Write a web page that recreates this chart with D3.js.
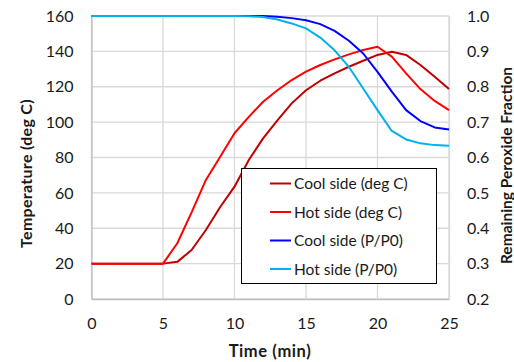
<!DOCTYPE html>
<html>
<head>
<meta charset="utf-8">
<script src="https://cdn.jsdelivr.net/npm/d3@7/dist/d3.min.js"></script>
<style>
  html, body { margin: 0; padding: 0; background: #fff; }
  svg { display: block; font-family: Lato, "Open Sans", sans-serif; }
</style>
</head>
<body>
<svg id="chart" width="514" height="362"></svg>
<script>
// Time in minutes (one reading per minute)
const time = d3.range(0, 26);

// Temperatures (deg C)
const coolTemp = [20, 20, 20, 20, 20, 20, 21, 27.7, 39, 52, 63.5, 78.6, 90.8, 101, 110.6, 118, 123.4, 127.6, 131.3, 134.7, 138, 139.8, 138, 132.3, 125.7, 118.7];
const hotTemp  = [20, 20, 20, 20, 20, 20, 31.5, 49, 67.3, 80.4, 93.7, 103, 111.5, 118, 123.8, 128.5, 132.3, 135.5, 138.3, 140.8, 142.6, 137, 127.6, 118.7, 112, 106.8];

// Remaining peroxide fraction (P/P0)
const coolFrac = [1, 1, 1, 1, 1, 1, 1, 1, 1, 1, 1, 1, 1, 0.998, 0.994, 0.988, 0.977, 0.958, 0.930, 0.894, 0.842, 0.786, 0.734, 0.703, 0.685, 0.679];
const hotFrac  = [1, 1, 1, 1, 1, 1, 1, 1, 1, 1, 1, 0.999, 0.997, 0.990, 0.979, 0.965, 0.939, 0.903, 0.856, 0.795, 0.734, 0.675, 0.651, 0.640, 0.635, 0.633];

const xTicks = [0, 5, 10, 15, 20, 25];
const leftTicks = [0, 20, 40, 60, 80, 100, 120, 140, 160];
const rightTicks = [0.2, 0.3, 0.4, 0.5, 0.6, 0.7, 0.8, 0.9, 1.0];

const series = [
  { name: "Cool side (deg C)", values: coolTemp, axis: "left",  color: "#C00000" },
  { name: "Hot side (deg C)",  values: hotTemp,  axis: "left",  color: "#FF0000" },
  { name: "Cool side (P/P0)",  values: coolFrac, axis: "right", color: "#0000FF" },
  { name: "Hot side (P/P0)",   values: hotFrac,  axis: "right", color: "#00B0F0" }
];

const svg = d3.select("#chart");
const plot = { left: 91.5, right: 449, top: 16, bottom: 299 };

const x = d3.scaleLinear().domain([0, 25]).range([plot.left, plot.right]);
const yL = d3.scaleLinear().domain([0, 160]).range([plot.bottom, plot.top]);
const yR = d3.scaleLinear().domain([0.2, 1.0]).range([plot.bottom, plot.top]);

const gridColor = "#D9D9D9";
const textColor = "#1a1a1a";

// Gridlines
const grid = svg.append("g");
grid.selectAll("line.h").data(leftTicks).join("line")
  .attr("x1", plot.left).attr("x2", plot.right)
  .attr("y1", d => yL(d)).attr("y2", d => yL(d))
  .attr("stroke", gridColor).attr("stroke-width", 1.3);
grid.selectAll("line.v").data(xTicks).join("line")
  .attr("x1", d => x(d)).attr("x2", d => x(d))
  .attr("y1", plot.top).attr("y2", plot.bottom)
  .attr("stroke", gridColor).attr("stroke-width", 1.3);

// Axes
const axisBottom = d3.axisBottom(x).tickValues(xTicks).tickSize(0).tickPadding(19).tickFormat(d3.format("d"));
const axisLeft = d3.axisLeft(yL).tickValues(leftTicks).tickSize(0).tickPadding(18).tickFormat(d3.format("d"));
const axisRight = d3.axisRight(yR).tickValues(rightTicks).tickSize(0).tickPadding(18).tickFormat(d3.format(".1f"));

function styleAxis(g) {
  g.select(".domain").attr("stroke", "#BFBFBF").attr("stroke-width", 1.3);
  g.selectAll("text").attr("fill", textColor).style("font-size", "16px").style("font-family", "Lato, sans-serif");
}
svg.append("g").attr("transform", `translate(0,${plot.bottom})`).call(axisBottom).call(styleAxis);
svg.append("g").attr("transform", `translate(${plot.left},0)`).call(axisLeft).call(styleAxis);
svg.append("g").attr("transform", `translate(${plot.right},0)`).call(axisRight).call(styleAxis)
  .select(".domain").attr("stroke", gridColor);

// Series lines
const lineFor = s => d3.line()
  .x((d, i) => x(time[i]))
  .y(d => (s.axis === "left" ? yL(d) : yR(d)));

svg.append("g").selectAll("path").data(series).join("path")
  .attr("d", s => lineFor(s)(s.values))
  .attr("fill", "none")
  .attr("stroke", s => s.color)
  .attr("stroke-width", 2)
  .attr("stroke-linejoin", "round");

// Axis titles
svg.append("text")
  .attr("x", 270).attr("y", 357)
  .attr("text-anchor", "middle")
  .attr("fill", textColor)
  .style("font-weight", "bold").style("font-size", "16.5px").style("letter-spacing", "0.6px")
  .text("Time (min)");

svg.append("text")
  .attr("transform", `translate(32,${(plot.top + plot.bottom) / 2 + 16}) rotate(-90)`)
  .attr("text-anchor", "middle")
  .attr("fill", textColor)
  .style("font-weight", "bold").style("font-size", "16px").style("letter-spacing", "0.3px")
  .text("Temperature (deg C)");

svg.append("text")
  .attr("transform", `translate(511.5,${(plot.top + plot.bottom) / 2 + 8}) rotate(-90)`)
  .attr("text-anchor", "middle")
  .attr("fill", textColor)
  .style("font-weight", "bold").style("font-size", "15.5px")
  .text("Remaining Peroxide Fraction");

// Legend
const legend = svg.append("g");
legend.append("rect")
  .attr("x", 241.5).attr("y", 168.5).attr("width", 195).attr("height", 115)
  .attr("fill", "#fff").attr("stroke", "#000").attr("stroke-width", 1);
const rows = legend.selectAll("g.row").data(series).join("g")
  .attr("transform", (d, i) => `translate(0,${183.5 + i * 28.5})`);
rows.append("line")
  .attr("x1", 270).attr("x2", 291).attr("y1", 0).attr("y2", 0)
  .attr("stroke", d => d.color).attr("stroke-width", 2);
rows.append("text")
  .attr("x", 294).attr("y", 5.5)
  .attr("fill", textColor)
  .style("font-size", "15.5px")
  .text(d => d.name);
</script>
</body>
</html>
